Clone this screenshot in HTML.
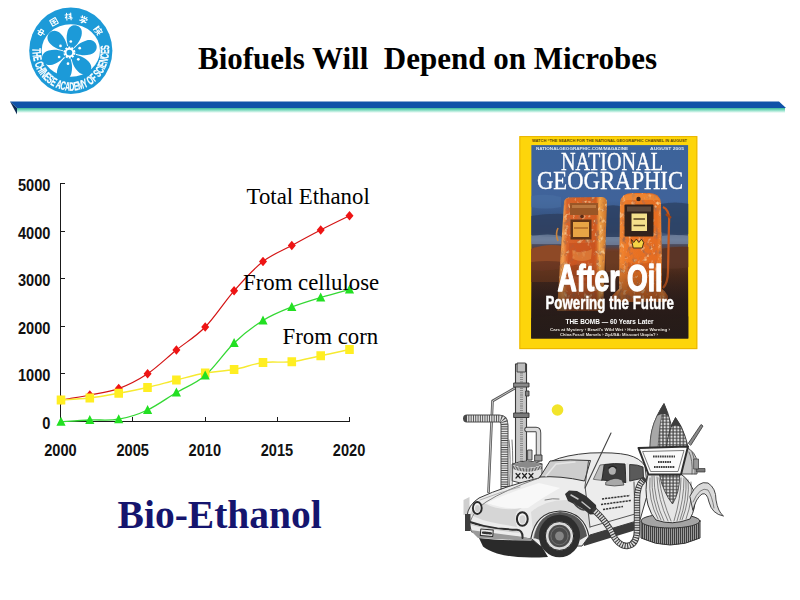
<!DOCTYPE html>
<html>
<head>
<meta charset="utf-8">
<title>Biofuels Will Depend on Microbes</title>
<style>
html,body{margin:0;padding:0;background:#fff;}
body{width:800px;height:600px;position:relative;overflow:hidden;font-family:"Liberation Sans",sans-serif;}
.abs{position:absolute;}
#title{left:198px;top:39px;font-family:"Liberation Serif",serif;font-weight:bold;font-size:31px;line-height:40px;white-space:pre;color:#000;}
#bio{left:117.6px;top:490.6px;font-family:"Liberation Serif",serif;font-weight:bold;font-size:39.5px;line-height:48px;white-space:pre;color:#15156e;}
.lbl{color:#111;font-family:"Liberation Serif",serif;font-size:22.8px;line-height:24px;white-space:pre;color:#000;}
svg{position:absolute;left:0;top:0;}
</style>
</head>
<body>
<!-- header bar + logo + chart + pictures -->
<svg id="main" width="800" height="600" viewBox="0 0 800 600">
<defs>
<linearGradient id="gbar" x1="0" y1="0" x2="0" y2="1">
<stop offset="0" stop-color="#19a58a"/><stop offset="0.5" stop-color="#7fdcc0"/><stop offset="1" stop-color="#ffffff"/>
</linearGradient>
</defs>
<!-- HEADER BAR -->
<g id="bar">
<rect x="17" y="107" width="768" height="6" fill="url(#gbar)"/>
<polygon points="10,101.5 779,101.5 786,108 17,108" fill="#0f52a8"/>
<polygon points="10,101.5 17,108 17,114.5" fill="#0c2a52"/>
</g>
<!-- LOGO -->
<g id="logo">
<defs><filter id="lg" x="-5%" y="-5%" width="110%" height="110%"><feGaussianBlur stdDeviation="0.4"/></filter>
<path id="ringtext" d="M36.09,33.98 A38.30,39.80 0 1 0 105.51,33.98"/>
</defs>
<g filter="url(#lg)">
<ellipse cx="70.8" cy="50.8" rx="41.6" ry="43.3" fill="#1d9ad8"/>
<ellipse cx="70.8" cy="50.5" rx="29.2" ry="26.3" fill="#fff"/>
<path transform="translate(69.4,52.6) rotate(-15.0) scale(1,1)" d="M2,0 C5,-1.800 10,-7.200 19.500,-7.300 C26,-7.200 28,-3.200 28,0 C28,3.200 26,7.200 19.500,7.300 C10,7.200 5,1.800 2,0z" fill="#1d9ad8"/>
<path transform="translate(69.4,52.6) rotate(-75.0) scale(1,1)" d="M2,0 C5,-1.800 10,-7.200 19.500,-7.300 C26,-7.200 28,-3.200 28,0 C28,3.200 26,7.200 19.500,7.300 C10,7.200 5,1.800 2,0z" fill="#1d9ad8"/>
<path transform="translate(69.4,52.6) rotate(-135.0) scale(1,1)" d="M2,0 C5,-1.800 10,-7.200 19.500,-7.300 C26,-7.200 28,-3.200 28,0 C28,3.200 26,7.200 19.500,7.300 C10,7.200 5,1.800 2,0z" fill="#1d9ad8"/>
<path transform="translate(69.4,52.6) rotate(-195.0) scale(1,1)" d="M2,0 C5,-1.800 10,-7.200 19.500,-7.300 C26,-7.200 28,-3.200 28,0 C28,3.200 26,7.200 19.500,7.300 C10,7.200 5,1.800 2,0z" fill="#1d9ad8"/>
<path transform="translate(69.4,52.6) rotate(-255.0) scale(1,1)" d="M2,0 C5,-1.800 10,-7.200 19.500,-7.300 C26,-7.200 28,-3.200 28,0 C28,3.200 26,7.200 19.500,7.300 C10,7.200 5,1.800 2,0z" fill="#1d9ad8"/>
<path transform="translate(69.4,52.6) rotate(-315.0) scale(1,1)" d="M2,0 C5,-1.800 10,-7.200 19.500,-7.300 C26,-7.200 28,-3.200 28,0 C28,3.200 26,7.200 19.500,7.300 C10,7.200 5,1.800 2,0z" fill="#1d9ad8"/>
<circle cx="69.4" cy="52.6" r="6.8" fill="#1d9ad8"/>
<circle cx="69.4" cy="52.6" r="4.8" fill="none" stroke="#fff" stroke-width="2.4" stroke-dasharray="1.9 1.1"/>
<circle cx="69.4" cy="52.6" r="3.8" fill="none" stroke="#fff" stroke-width="1.9"/>
<circle cx="79.7" cy="48.2" r="1.35" fill="#fff"/>
<circle cx="70.8" cy="41.5" r="1.35" fill="#fff"/>
<circle cx="60.5" cy="45.9" r="1.35" fill="#fff"/>
<circle cx="59.1" cy="57.0" r="1.35" fill="#fff"/>
<circle cx="68.0" cy="63.7" r="1.35" fill="#fff"/>
<circle cx="78.3" cy="59.3" r="1.35" fill="#fff"/>
<text font-family="Liberation Sans, sans-serif" font-weight="bold" font-size="12" stroke="#fff" stroke-width="0.25" fill="#fff" textLength="131" lengthAdjust="spacingAndGlyphs"><textPath href="#ringtext" startOffset="14.5">THE CHINESE ACADEMY OF SCIENCES</textPath></text>
<path transform="translate(41.0,32.4) rotate(-58.3) scale(1.05)" d="M-2.6,-1.6 h5.2 v3 h-5.2z M0,-3.4 v7" fill="none" stroke="#fff" stroke-width="1.05" stroke-linecap="round" stroke-linejoin="round"/>
<path transform="translate(54.0,21.8) rotate(-30.1) scale(1.05)" d="M-3,-3 h6 v6 h-6z M-1.6,-1.2 h3.2 M-1.6,0.6 h3.2 M0,-1.2 v3" fill="none" stroke="#fff" stroke-width="1.05" stroke-linecap="round" stroke-linejoin="round"/>
<path transform="translate(68.6,16.6) rotate(-3.7) scale(1.05)" d="M-3.2,-1.8 h2.8 M-1.8,-3.2 v6.4 M-3.2,1 l1.4,-1.6 M0.6,-2.4 l1,0.8 M0.6,-0.4 l1,0.8 M-0.2,1.6 h3.6 M2.2,-3.2 v6.4" fill="none" stroke="#fff" stroke-width="1.05" stroke-linecap="round" stroke-linejoin="round"/>
<path transform="translate(83.4,19.8) rotate(22.1) scale(1.05)" d="M-2.4,-3.2 l0.8,1 M0,-3.4 v1.2 M2.4,-3.2 l-0.8,1 M-3.2,-1.6 h6.4 v1 M-1.8,0.2 h3.4 l-1.6,1.2 v1.2 q0,0.8 -1,0.6 M-3.2,1.6 h6.4" fill="none" stroke="#fff" stroke-width="1.05" stroke-linecap="round" stroke-linejoin="round"/>
<path transform="translate(98.2,30.6) rotate(53.6) scale(1.05)" d="M-3.2,-3 v6.2 M-3.2,-3 q2.4,0.6 0,2.4 q2.4,1 0,2.2 M0.8,-3.4 v0.8 M-0.8,-2.4 h4.2 v0.8 M-0.2,-0.6 h3 M-0.8,0.8 h4.2 M0.4,0.8 q0,2 -1.4,2.6 M2,0.8 v1.8 q0,0.6 1.2,0.4" fill="none" stroke="#fff" stroke-width="1.05" stroke-linecap="round" stroke-linejoin="round"/>
</g>
</g>
<!-- CHART -->
<g id="chart">
<path d="M60.5,183 V421.5 H350" fill="none" stroke="#1a1a1a" stroke-width="1" shape-rendering="crispEdges"/>
<path d="M60.5,421.5 h4.5 M60.5,373.5 h4.5 M60.5,326.5 h4.5 M60.5,278.5 h4.5 M60.5,231.5 h4.5 M60.5,183.5 h4.5 M60.5,421.5 v-4.5 M132.5,421.5 v-4.5 M205.5,421.5 v-4.5 M277.5,421.5 v-4.5 M349.5,421.5 v-4.5 " fill="none" stroke="#1a1a1a" stroke-width="1" shape-rendering="crispEdges"/>
<g font-family="Liberation Sans, sans-serif" font-size="17" font-weight="bold" fill="#111" stroke="none">
<text transform="translate(50.5,428.9) scale(0.86,1)" text-anchor="end">0</text>
<text transform="translate(50.5,381.3) scale(0.86,1)" text-anchor="end">1000</text>
<text transform="translate(50.5,333.8) scale(0.86,1)" text-anchor="end">2000</text>
<text transform="translate(50.5,286.1) scale(0.86,1)" text-anchor="end">3000</text>
<text transform="translate(50.5,238.5) scale(0.86,1)" text-anchor="end">4000</text>
<text transform="translate(50.5,190.9) scale(0.86,1)" text-anchor="end">5000</text>
<text transform="translate(60.5,455.9) scale(0.86,1)" text-anchor="middle">2000</text>
<text transform="translate(132.7,455.9) scale(0.86,1)" text-anchor="middle">2005</text>
<text transform="translate(204.8,455.9) scale(0.86,1)" text-anchor="middle">2010</text>
<text transform="translate(277.0,455.9) scale(0.86,1)" text-anchor="middle">2015</text>
<text transform="translate(349.1,455.9) scale(0.86,1)" text-anchor="middle">2020</text>
</g>
<path d="M61.0,400.0 C65.8,399.2 80.2,396.9 89.8,395.0 C99.5,393.1 109.1,392.1 118.7,388.6 C128.3,385.1 137.9,380.2 147.6,373.8 C157.2,367.3 166.8,357.8 176.4,350.0 C186.0,342.2 195.6,336.9 205.2,327.0 C214.9,317.1 224.5,301.7 234.1,290.8 C243.7,279.8 253.3,269.0 263.0,261.5 C272.6,254.0 282.2,250.8 291.8,245.5 C301.4,240.2 311.0,235.0 320.7,230.0 C330.3,225.0 344.7,218.1 349.5,215.8" fill="none" stroke="#d41414" stroke-width="1.2"/>
<path d="M61.0,400.0 C65.8,399.7 80.2,399.1 89.8,398.0 C99.5,396.9 109.1,395.0 118.7,393.2 C128.3,391.5 137.9,389.7 147.6,387.5 C157.2,385.3 166.8,382.4 176.4,380.0 C186.0,377.6 195.6,374.8 205.2,373.0 C214.9,371.2 224.5,371.2 234.1,369.5 C243.7,367.8 253.3,363.8 263.0,362.5 C272.6,361.2 282.2,362.9 291.8,361.8 C301.4,360.6 311.0,357.8 320.7,355.8 C330.3,353.7 344.7,350.5 349.5,349.5" fill="none" stroke="#f6ea30" stroke-width="1.4"/>
<path d="M61.0,421.8 C65.8,421.5 80.2,420.4 89.8,420.0 C99.5,419.6 109.1,420.9 118.7,419.2 C128.3,417.6 137.9,414.5 147.6,410.0 C157.2,405.5 166.8,398.2 176.4,392.5 C186.0,386.8 195.6,383.8 205.2,375.5 C214.9,367.2 224.5,352.2 234.1,343.0 C243.7,333.8 253.3,326.5 263.0,320.5 C272.6,314.5 282.2,310.8 291.8,307.0 C301.4,303.2 311.0,300.4 320.7,297.5 C330.3,294.6 344.7,290.8 349.5,289.5" fill="none" stroke="#34d834" stroke-width="1.3"/>
<path d="M61.0,395.2 l4,4.8 l-4,4.8 l-4,-4.8z M89.8,390.2 l4,4.8 l-4,4.8 l-4,-4.8z M118.7,383.8 l4,4.8 l-4,4.8 l-4,-4.8z M147.6,368.9 l4,4.8 l-4,4.8 l-4,-4.8z M176.4,345.2 l4,4.8 l-4,4.8 l-4,-4.8z M205.2,322.2 l4,4.8 l-4,4.8 l-4,-4.8z M234.1,285.9 l4,4.8 l-4,4.8 l-4,-4.8z M263.0,256.7 l4,4.8 l-4,4.8 l-4,-4.8z M291.8,240.7 l4,4.8 l-4,4.8 l-4,-4.8z M320.7,225.2 l4,4.8 l-4,4.8 l-4,-4.8z M349.5,210.9 l4,4.8 l-4,4.8 l-4,-4.8z " fill="#ee1414"/>
<path d="M56.7,395.5 h8.6 v9 h-8.6z M85.5,393.5 h8.6 v9 h-8.6z M114.4,388.8 h8.6 v9 h-8.6z M143.2,383.0 h8.6 v9 h-8.6z M172.1,375.5 h8.6 v9 h-8.6z M200.9,368.5 h8.6 v9 h-8.6z M229.8,365.0 h8.6 v9 h-8.6z M258.7,358.0 h8.6 v9 h-8.6z M287.5,357.2 h8.6 v9 h-8.6z M316.4,351.2 h8.6 v9 h-8.6z M345.2,345.0 h8.6 v9 h-8.6z " fill="#ffee22"/>
<path d="M61.0,416.8 l4.6,9 h-9.2z M89.8,415.0 l4.6,9 h-9.2z M118.7,414.2 l4.6,9 h-9.2z M147.6,405.0 l4.6,9 h-9.2z M176.4,387.5 l4.6,9 h-9.2z M205.2,370.5 l4.6,9 h-9.2z M234.1,338.0 l4.6,9 h-9.2z M263.0,315.5 l4.6,9 h-9.2z M291.8,302.0 l4.6,9 h-9.2z M320.7,292.5 l4.6,9 h-9.2z M349.5,284.5 l4.6,9 h-9.2z " fill="#22e022"/>
</g>
<!-- NATGEO -->
<g id="natgeo">
<defs>
<linearGradient id="sky" x1="0" y1="0" x2="0" y2="1">
<stop offset="0" stop-color="#3c639a"/><stop offset="0.285" stop-color="#40639a"/><stop offset="0.39" stop-color="#34507c"/><stop offset="0.45" stop-color="#3a4c6e"/><stop offset="0.49" stop-color="#61748e"/><stop offset="0.52" stop-color="#4c4a5a"/><stop offset="0.545" stop-color="#6e3c28"/><stop offset="0.67" stop-color="#4a2a1c"/><stop offset="0.8" stop-color="#2e2020"/><stop offset="1" stop-color="#2a2226"/>
</linearGradient>
<linearGradient id="dark" x1="0" y1="0" x2="0" y2="1"><stop offset="0" stop-color="#2a1a14" stop-opacity="0"/><stop offset="0.45" stop-color="#2a1a14" stop-opacity="0.45"/><stop offset="0.7" stop-color="#261a16" stop-opacity="0.8"/><stop offset="1" stop-color="#241a18" stop-opacity="0.9"/></linearGradient>
<linearGradient id="pumpL" x1="0" y1="0" x2="1" y2="0">
<stop offset="0" stop-color="#d87a30"/><stop offset="0.12" stop-color="#f2a050"/><stop offset="0.2" stop-color="#d8642a"/><stop offset="0.78" stop-color="#d05a22"/><stop offset="0.85" stop-color="#f0a248"/><stop offset="1" stop-color="#c87028"/>
</linearGradient>
<linearGradient id="pumpR" x1="0" y1="0" x2="1" y2="0">
<stop offset="0" stop-color="#c8521a"/><stop offset="0.12" stop-color="#f28a34"/><stop offset="0.3" stop-color="#ea7426"/><stop offset="0.8" stop-color="#e46c20"/><stop offset="0.92" stop-color="#f08c38"/><stop offset="1" stop-color="#a8481a"/>
</linearGradient>
<filter id="soft" x="-5%" y="-5%" width="110%" height="110%"><feGaussianBlur stdDeviation="0.7"/></filter>
<filter id="rust" x="-5%" y="-5%" width="110%" height="110%"><feGaussianBlur in="SourceGraphic" stdDeviation="0.6" result="b"/><feTurbulence type="fractalNoise" baseFrequency="0.22 0.16" numOctaves="3" seed="7" result="n"/><feColorMatrix in="n" type="matrix" values="0 0 0 0 0.42  0 0 0 0 0.15  0 0 0 0 0.06  0 0 0 -3.4 1.6" result="d"/><feComposite in="d" in2="b" operator="in" result="dd"/><feColorMatrix in="n" type="matrix" values="0 0 0 0 0.98  0 0 0 0 0.68  0 0 0 0 0.32  0 0 3 0 -1.8" result="l"/><feComposite in="l" in2="b" operator="in" result="ll"/><feMerge><feMergeNode in="b"/><feMergeNode in="dd"/><feMergeNode in="ll"/></feMerge></filter>
<filter id="soft2" x="-5%" y="-5%" width="110%" height="110%"><feGaussianBlur stdDeviation="0.35"/></filter>
<clipPath id="photoclip"><rect x="531.2" y="145.1" width="157.1" height="193.3"/></clipPath>
</defs>
<rect x="519.4" y="136.1" width="177.9" height="213" fill="#fdd50b"/>
<rect x="519.9" y="136.6" width="176.9" height="212" fill="none" stroke="#e9b400" stroke-width="1"/>
<text x="532" y="142.300" font-family="Liberation Sans, sans-serif" font-weight="bold" font-size="4" fill="#5e4608" textLength="155" lengthAdjust="spacingAndGlyphs">WATCH “THE SEARCH FOR THE NATIONAL GEOGRAPHIC CHANNEL IN AUGUST</text>
<g clip-path="url(#photoclip)">
<rect x="531.2" y="145.100" width="157.1" height="193.3" fill="url(#sky)"/>
<g filter="url(#soft)">
<!-- clouds -->
<path d="M531,216 q30,-5 56,1 v18 q-28,4 -56,0z" fill="#2b3d5e" opacity="0.75"/>
<path d="M606,206 q10,-2 16,1 v30 h-16z" fill="#2c4060" opacity="0.8"/>
<path d="M660,204 q15,-3 30,0 v30 q-15,3 -30,-2z" fill="#2d4264" opacity="0.8"/>
<path d="M531,196 q16,-3 30,1 v10 q-16,3 -30,0z" fill="#4a6ea2" opacity="0.6"/>
<path d="M531,236 q18,-3 30,0 v8 h-30z M606,237 h16 v8 h-16z M662,236 q14,-2 28,0 v8 h-28z" fill="#7384a0" opacity="0.75"/>
<!-- land -->
<path d="M531,249 q16,-6 32,-3 v22 q-16,4 -32,2z" fill="#8e4a28"/>
<path d="M531,262 q16,-2 32,0 v20 h-32z" fill="#6a3620" opacity="0.9"/>
<path d="M606,252 q8,-2 16,0 v20 h-16z" fill="#6c3a24"/>
<path d="M660,249 q15,-3 30,-2 v20 q-15,3 -30,1z" fill="#5c3626"/>
<path d="M531,318 q40,-6 80,0 t80,-2 v24 h-160z" fill="#2e2622" opacity="0.8"/>
</g>
<g filter="url(#rust)">
<path d="M564,203 q0,-5 5,-5.500 l33,-0.500 q5,0.500 5,6 l-4,108 h-46z" fill="url(#pumpL)"/>
<path d="M620,203 q1,-10 12,-10 h17 q11,0 12,10 l1,86 q4,3 6,7 v6 h-56 v-6 q3,-4 7,-7z" fill="url(#pumpR)"/>
</g>
<g filter="url(#soft)">
<!-- left pump details -->
<path d="M570,203 h28 v12 h-28z" fill="#9a5628"/>
<path d="M572,205 h24 v3 h-24z" fill="#c8864a" opacity="0.700"/>
<circle cx="582" cy="216.500" r="1.800" fill="#5a2c14"/>
<rect x="570.500" y="219.500" width="21" height="20" fill="#5e3014"/>
<rect x="573" y="222" width="16" height="15" fill="#e8a444"/>
<path d="M574,228 h14" stroke="#b06a28" stroke-width="1.500"/>
<path d="M569,243 h26 l-1,40 h-27z" fill="#c44e1c" opacity="0.600"/>
<path d="M572,250 q10,5 20,-1 l-1,10 q-9,4 -18,0z" fill="#f0a050" opacity="0.450"/>
<path d="M570,266 q12,-4 22,2 v8 q-10,3 -22,-1z" fill="#8a3a18" opacity="0.450"/>
<path d="M558,228 q-3,6 0,13" stroke="#c8823c" stroke-width="1.600" fill="none"/>
<!-- right pump details -->
<path d="M622,200 q3,-6 10,-6 h17 q8,0 10,6z" fill="#f29a44" opacity="0.500"/>
<rect x="624.500" y="204.500" width="29" height="32" rx="1" fill="#30221c"/>
<rect x="627" y="206.500" width="24" height="5" fill="#5c4a3e"/>
<rect x="631.500" y="213.500" width="15.500" height="17.500" fill="#f4e08c"/>
<path d="M633.500,219 h11.500 M633.500,225.500 h11.500" stroke="#5a4420" stroke-width="1.400"/>
<circle cx="638.500" cy="199" r="2.200" fill="#3c2416"/>
<path d="M631.500,239.500 l2.200,3 l2.600,-3.400 l2.600,3.400 l2.600,-3.400 l2.200,3.400 l-1.500,5.500 h-9z" fill="#f6d444" stroke="#3a2010" stroke-width="0.900"/>
<path d="M628,262 q10,4 22,0 v8 q-12,3 -22,0z" fill="#c04c14" opacity="0.400"/>
<path d="M663,207 q7,3 6,16 l-1,48 q0,12 -5,17" stroke="#c8581c" stroke-width="2.200" fill="none"/>
<path d="M666,214 l5,4" stroke="#a04414" stroke-width="2.500"/>
</g>
<rect x="531" y="262" width="158" height="77" fill="url(#dark)"/>
</g>
<!-- cover text -->
<g filter="url(#soft2)">
<g font-family="Liberation Sans, sans-serif" font-weight="bold" font-size="3.600" fill="#dce8f6"><text x="536" y="150" textLength="92" lengthAdjust="spacingAndGlyphs">NATIONALGEOGRAPHIC.COM/MAGAZINE</text><text x="650" y="150" textLength="34" lengthAdjust="spacingAndGlyphs">AUGUST 2005</text></g>
<g font-family="Liberation Serif, serif" fill="#fff" stroke="#fff" stroke-width="0.35">
<text x="561" y="170.200" font-size="24.500" textLength="102" lengthAdjust="spacingAndGlyphs">NATIONAL</text>
<text x="537" y="189.200" font-size="25.500" textLength="146" lengthAdjust="spacingAndGlyphs">GEOGRAPHIC</text>
</g>
<g font-family="Liberation Sans, sans-serif" font-weight="bold" fill="#fff">
<text x="557.500" y="291" font-size="37" textLength="105" lengthAdjust="spacingAndGlyphs" stroke="#fff" stroke-width="1.3" stroke-linejoin="round">After Oil</text>
<text x="545.500" y="308.600" font-size="18.500" textLength="128.500" lengthAdjust="spacingAndGlyphs" stroke="#fff" stroke-width="0.5">Powering the Future</text>
<text x="565.500" y="323.800" font-size="7.600" textLength="88" lengthAdjust="spacingAndGlyphs">THE BOMB — 60 Years Later</text>
<text x="550" y="330.600" font-size="4.200" textLength="120" lengthAdjust="spacingAndGlyphs" fill="#e8e4dc">Cars at Mystery ›  Brazil's Wild Wet ›  Hurricane Warning ›</text>
<text x="560" y="336.200" font-size="4.200" textLength="98" lengthAdjust="spacingAndGlyphs" fill="#e8e4dc">China Fossil Marvels ›  ZipUSA: Missouri Utopia? ›</text>
</g>
</g>
</g>
<!-- SKETCH -->
<g id="sketch">
<defs>
<pattern id="hatchV" width="2" height="8" patternUnits="userSpaceOnUse"><rect width="2" height="8" fill="#9a9a9a"/><rect width="1" height="8" fill="#3c3c3c"/></pattern>
<pattern id="kern" width="3.4" height="3.2" patternUnits="userSpaceOnUse"><rect width="3.4" height="3.2" fill="#555"/><circle cx="1.7" cy="1.6" r="1.150" fill="#e2e2e2"/></pattern>
<filter id="sk" x="-5%" y="-5%" width="110%" height="110%"><feGaussianBlur stdDeviation="0.45"/></filter>
</defs>
<g filter="url(#sk)" stroke-linejoin="round" stroke-linecap="round">
<!-- sun -->
<circle cx="557.500" cy="410" r="5.800" fill="#f2e42c"/>
<!-- DISTILLERY -->
<g fill="none" stroke="#444" stroke-width="0.9">
<!-- thin pipe -->
<path d="M515,388 L492.500,401 L488.500,492" stroke-width="2.600" stroke="#555"/>
<path d="M515,388 L492.500,401 L488.500,492" stroke-width="0.900" stroke="#d0d0d0"/>
<!-- horizontal ribbed pipe + elbow down -->
<path d="M467,418.500 H499 Q504.500,418.500 504.500,425 V489" stroke="#4a4a4a" stroke-width="8"/>
<path d="M467,418.500 H499 Q504.500,418.500 504.500,425 V489" stroke="#e2e2e2" stroke-width="6" stroke-dasharray="1.400 0.900" stroke-linecap="butt"/>
<!-- column -->
<rect x="515.500" y="364" width="11" height="100" fill="#c6c6c6" stroke="#3a3a3a" stroke-width="1.100"/>
<path d="M521.500,366 V462" stroke="#777" stroke-width="3" stroke-dasharray="0.800 1.400" stroke-linecap="butt"/>
<rect x="517.500" y="363" width="8" height="9" fill="#bdbdbd" stroke="#3a3a3a"/>
<rect x="514" y="383" width="15" height="4" fill="#8a8a8a" stroke="#333"/>
<rect x="514" y="413" width="15" height="4.500" fill="#7a7a7a" stroke="#333"/>
<rect x="526" y="391" width="3" height="5" fill="#888" stroke="#333"/>
<!-- small pipe right -->
<path d="M527,429.500 H536 Q538.500,429.500 538.500,433 V459" stroke="#444" stroke-width="5.500"/>
<path d="M527,429.500 H536 Q538.500,429.500 538.500,433 V459" stroke="#dcdcdc" stroke-width="3.600"/>
<rect x="535" y="455" width="7" height="6" fill="#999" stroke="#333"/>
<rect x="528" y="450" width="4" height="10" fill="#bbb" stroke="#333"/>
<!-- tank -->
<path d="M512.500,464 Q527,458 542,464 V481 Q527,486 512.500,481z" fill="#e4e4e4" stroke="#333"/>
<path d="M512.500,464 Q527,470 542,464" stroke="#333"/>
<path d="M513,464.500 Q527,458.500 541.500,464.500 Q527,471 513,464.500z" fill="#8a8a8a" stroke="none"/><path d="M513,467 Q527,473 541.500,467" stroke="#4a4a4a" stroke-width="3.400" stroke-dasharray="0.800 0.700" stroke-linecap="butt"/>
<path d="M516,473.500 l4,4.500 m0,-4.500 l-4,4.500 M522.500,473.500 l4,4.500 m0,-4.500 l-4,4.500 M529,473.500 l4,4.500 m0,-4.500 l-4,4.500" stroke="#222" stroke-width="1.200"/>
<path d="M509,440 Q511,455 509.500,489 M512,440 Q513.500,460 512,487" stroke="#555" stroke-width="0.800"/>
</g>
<!-- CAR shadow -->
<path d="M479,538 Q500,541 538,540 L548,557 Q515,559 497,553.500 Q487,550 483,546.500z" fill="#2b2b2b"/>
<path d="M580,534 L634,522 L636,530 Q610,538 584,546z" fill="#3a3a3a"/>
<path d="M463.500,500 l6,-3 v16 l-6,2z" fill="#cfcfcf"/>
<!-- CAR body -->
<path d="M467,516 Q468,505 479,498 Q505,486 539,478 L552,461 Q565,455 590,453 Q615,452 628,455 Q640,458 645,466 L648,492 L640,520 L590,535 L582,546 L540,546 L532,539 L472,532z" fill="#ececec" stroke="#3a3a3a" stroke-width="1"/>
<path d="M470,530 L524,537 L532,539 L531,541 L478,538z" fill="#9a9a9a"/>
<path d="M487,503 Q505,494 539,483 L560,488 Q545,496 528,508 Q505,510 487,503z" fill="#f8f8f8"/>
<path d="M470,514 Q478,520 500,524 L517,527 Q512,512 522,508 Q500,512 484,503 Q474,506 470,514z" fill="#d6d6d6"/>
<path d="M531,512 Q545,500 566,500 L590,506 L590,530 Q580,510 560,510 Q540,510 533,532z" fill="#dcdcdc"/>
<!-- windshield -->
<path d="M540,477 L550,461 Q570,459 590.500,460.500 L584.500,481 Q560,475.500 540,477z" fill="#cdcdcd" stroke="#333" stroke-width="1"/>
<path d="M546,476 L556,464 L575,462" fill="none" stroke="#e6e6e6" stroke-width="1.500"/>
<!-- side window / driver -->
<path d="M593.500,479 L600,465 L604,464.500 L602,480z" fill="#bcbcbc" stroke="#444" stroke-width="0.700"/>
<path d="M602,480 L604.500,464.500 Q614,463 625,464 L626,482.500 Q612,481 602,480z" fill="#3c3c3c" stroke="#2a2a2a" stroke-width="1"/>
<ellipse cx="612.300" cy="470.500" rx="3.600" ry="4.200" fill="#b0b0b0"/>
<path d="M609,468 q3.500,-3.500 7,0" stroke="#222" stroke-width="1.600" fill="none"/>
<path d="M606,482 Q614,476 622,480 L624,485 Q614,487 606,485z" fill="#a8a8a8" stroke="#333" stroke-width="0.700"/>
<!-- rear window -->
<path d="M630,464.500 Q638,464.500 643,467 L643.500,478 L630,481z" fill="#5a5a5a" stroke="#2a2a2a" stroke-width="0.900"/>
<path d="M627.500,464 V482" stroke="#ddd" stroke-width="2"/>
<!-- door lines -->
<path d="M588.500,461 L585,486 L590,527 M634,482 L635,520 M590,527 L635,514" fill="none" stroke="#444" stroke-width="0.900"/>
<!-- door text -->
<path d="M602,499 l28,-3.500 M601,504.500 l30,-4 M603,509.500 l20,-3" stroke="#333" stroke-width="1.500" stroke-dasharray="2.200 0.900" stroke-linecap="butt" fill="none"/>
<!-- hood lines -->
<path d="M539,478 Q505,490 486,502 Q474,510 470,522 M545,500 q8,-2 14,-1" fill="none" stroke="#666" stroke-width="0.800"/>
<path d="M480,500 Q500,492 520,487" fill="none" stroke="#999" stroke-width="0.700"/>
<!-- fender arc -->
<path d="M531,538 Q536,512 560,511 Q584,512 589,536" fill="none" stroke="#333" stroke-width="1.200"/>
<path d="M534,538 Q538,516 560,515" fill="none" stroke="#999" stroke-width="1.500"/>
<!-- headlights -->
<ellipse cx="477.300" cy="508" rx="4.400" ry="6" fill="#efefef" stroke="#2a2a2a" stroke-width="1.900"/>
<ellipse cx="477.500" cy="508.500" rx="2.400" ry="3.500" fill="#cfcfcf"/>
<ellipse cx="522.300" cy="519" rx="5.400" ry="6.800" fill="#f2f2f2" stroke="#2a2a2a" stroke-width="2"/>
<ellipse cx="522.500" cy="519.500" rx="3" ry="4.200" fill="#d4d4d4"/>
<!-- bumper -->
<path d="M470,522 Q484,527 497.500,528.500 Q510,529.500 517,529.800 Q523,530.500 522.500,538" fill="none" stroke="#2e2e2e" stroke-width="2"/>
<path d="M471,524.500 Q492,530 519,532" fill="none" stroke="#c8c8c8" stroke-width="1.200"/>
<path d="M465,514 h5.500 v17 h-5.500z" fill="#3c3c3c"/>
<rect x="480.500" y="529.500" width="12.500" height="6.500" fill="#e8e8e8" stroke="#2a2a2a" stroke-width="1" transform="rotate(5 487 533)"/>
<path d="M483,532.600 l8,0.800" stroke="#333" stroke-width="2.400" stroke-dasharray="1.400 0.800"/>
<!-- wheel -->
<path d="M534,538 Q538,513 560,512 Q583,513 587,536 L580,540 Q576,520 560,519 Q544,520 540,540z" fill="#555"/>
<ellipse cx="559.500" cy="536" rx="20.600" ry="21.300" fill="#2e2e2e"/>
<ellipse cx="559.500" cy="536" rx="14.200" ry="14.400" fill="#dadada" stroke="#111" stroke-width="0.800"/>
<ellipse cx="559.500" cy="536" rx="11" ry="11.200" fill="#4c4c4c"/>
<ellipse cx="559.500" cy="536" rx="8.600" ry="8.800" fill="none" stroke="#777" stroke-width="0.800"/>
<ellipse cx="559.500" cy="536" rx="4.400" ry="4.500" fill="#858585"/>
<!-- antenna -->
<path d="M611,433 L585,488" stroke="#444" stroke-width="1.100" fill="none"/>
<!-- nozzle -->
<path d="M565,494 L569,490.500 L577,491 L586,496 L596,505 L597,514 L590,514.500 L583,509 L576,505 L568,501z" fill="#303030"/>
<path d="M571,495 l7,4 M582,502 l8,6.500" stroke="#c4c4c4" stroke-width="1.500"/>
<path d="M574,503 q4,6 10,7" stroke="#444" stroke-width="1.600" fill="none"/>
<!-- hose -->
<path d="M595,511 Q606,521 612,533 Q618,546 627,546 Q637,545 637,530 V500 Q637,486 643,480.500" fill="none" stroke="#3a3a3a" stroke-width="6.400"/>
<path d="M595,511 Q606,521 612,533 Q618,546 627,546 Q637,545 637,530 V500 Q637,486 643,480.500" fill="none" stroke="#dedede" stroke-width="4.600" stroke-dasharray="1.500 1" stroke-linecap="butt"/>
<!-- CORN PUMP -->
<!-- base -->
<path d="M641,521 V538 Q670,552 700,538 V521z" fill="url(#hatchV)" stroke="#333" stroke-width="1"/>
<ellipse cx="670.500" cy="521" rx="29.500" ry="7" fill="#a4a4a4" stroke="#333" stroke-width="1"/>
<!-- husk body -->
<path d="M648,474 Q644,490 648,505 Q651,515 656,520 Q672,526 690,519 Q696,508 695,496 Q692,482 681,474z" fill="#e6e6e6" stroke="#333" stroke-width="1"/>
<path d="M650,478 Q648,500 658,519 M652,476 Q651,500 661,520 M654,476 Q654,500 664,521 M657,477 Q658,500 668,521 M659,478 Q662,500 671,521 M691,482 Q693,500 686,519 M688,480 Q690,500 682,520 M686,479 Q687,500 680,520 M684,478 Q684,500 677,521 M681,478 Q681,498 674,521" fill="none" stroke="#555" stroke-width="0.700"/>
<path d="M659.500,475 L679.500,475 Q680,492 672.500,504 Q663,492 659.500,475z" fill="url(#kern)" stroke="#333" stroke-width="0.800"/>
<!-- leaf right -->
<path d="M690,496 Q698,480 708,483 Q716,488 716,500 Q718,512 723.500,516 Q712,514 709,502 Q707,492 702,494 Q696,498 693,510z" fill="#dadada" stroke="#333" stroke-width="0.900"/>
<path d="M693,502 Q700,486 708,490 Q712,496 714,508" fill="none" stroke="#555" stroke-width="0.700"/>
<!-- behind-sign husk right -->
<path d="M686,447 Q696,452 697,462 L697,474 L681,474z" fill="#c8c8c8" stroke="#333" stroke-width="0.800"/>
<path d="M689,452 Q693,460 692,474 M692,452 Q696,462 695,474" stroke="#444" stroke-width="0.700" fill="none"/>
<rect x="697" y="468.500" width="8" height="3.500" fill="#777" stroke="#333" stroke-width="0.700"/>
<rect x="694" y="459" width="4.500" height="10" fill="#999" stroke="#333" stroke-width="0.700"/>
<!-- corn ears -->
<path d="M650,447 Q650,430 657,416 Q661,408 664,403.500 Q668,412 671,424 Q673.500,434 674,447z" fill="url(#kern)" stroke="#333" stroke-width="0.900"/>
<path d="M666.500,447 Q668,431 675.500,417.500 Q682,426 685,436 Q687,442 688,447z" fill="url(#kern)" stroke="#333" stroke-width="0.900"/>
<path d="M650,447 Q650,430 657,416 Q661,408 664,404 Q659,425 658,447z" fill="#a8a8a8" stroke="#444" stroke-width="0.600"/>
<path d="M657,416 Q661,408 664,403.500 Q667,410 668.500,416 Q663,412 657,416z" fill="#3c3c3c"/>
<path d="M670.500,427 Q673,421 675.500,417.500 Q679,422 681,427 Q676,424 670.500,427z" fill="#3c3c3c"/>
<!-- lever -->
<path d="M688.500,443 L701,424.500 L703,426 L691,445z" fill="#8a8a8a" stroke="#333" stroke-width="0.800"/>
<!-- sign -->
<path d="M638.500,448 L688,446.500 L681,474.500 L648.500,474.500z" fill="#fafafa" stroke="#2e2e2e" stroke-width="2"/>
<path d="M643,451.500 L684,450.500 L678,471.500 L651,471.500z" fill="none" stroke="#444" stroke-width="0.700"/>
<path d="M653,456.500 H675 M658,462 H671 M654,467 H675" stroke="#3a3a3a" stroke-width="2.200" stroke-dasharray="1.600 0.700" stroke-linecap="butt"/>
</g>
</g>
</svg>
<div id="title" class="abs">Biofuels Will  Depend on Microbes</div>
<div id="bio" class="abs">Bio-Ethanol</div>
<div class="abs lbl" id="l1" style="left:246.6px;top:184.5px;">Total Ethanol</div>
<div class="abs lbl" id="l2" style="left:243px;top:271px;">From cellulose</div>
<div class="abs lbl" id="l3" style="left:282.6px;top:324.6px;">From corn</div>
</body>
</html>
